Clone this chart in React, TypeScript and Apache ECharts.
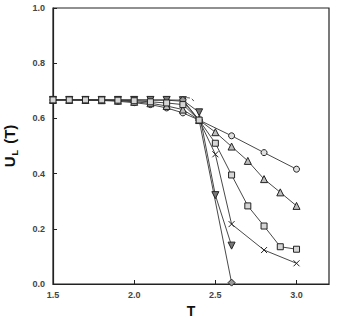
import React, { useEffect, useRef } from "react";
import * as echarts from "echarts";

// Temperatures and Binder cumulant values per system size
const circleT = [1.5, 1.6, 1.7, 1.8, 1.9, 2.0, 2.1, 2.2, 2.3, 2.4, 2.6, 2.8, 3.0];
const circleU = [0.667, 0.667, 0.666, 0.665, 0.662, 0.657, 0.65, 0.638, 0.62, 0.594, 0.537, 0.476, 0.416];

const triT = [1.5, 1.6, 1.7, 1.8, 1.9, 2.0, 2.1, 2.2, 2.3, 2.4, 2.5, 2.6, 2.7, 2.8, 2.9, 3.0];
const triU = [0.667, 0.667, 0.667, 0.666, 0.664, 0.66, 0.655, 0.645, 0.632, 0.594, 0.55, 0.498, 0.446, 0.38, 0.332, 0.283];

const sqT = [1.5, 1.6, 1.7, 1.8, 1.9, 2.0, 2.1, 2.2, 2.3, 2.4, 2.5, 2.6, 2.7, 2.8, 2.9, 3.0];
const sqU = [0.667, 0.667, 0.667, 0.667, 0.666, 0.664, 0.66, 0.656, 0.65, 0.594, 0.51, 0.395, 0.283, 0.21, 0.135, 0.126];

const crossT = [1.5, 1.6, 1.7, 1.8, 1.9, 2.0, 2.1, 2.2, 2.3, 2.4, 2.5, 2.6, 2.8, 3.0];
const crossU = [0.667, 0.667, 0.667, 0.667, 0.667, 0.667, 0.666, 0.666, 0.662, 0.594, 0.47, 0.217, 0.123, 0.075];

const invT = [1.5, 1.6, 1.7, 1.8, 1.9, 2.0, 2.1, 2.2, 2.3, 2.4, 2.5, 2.6];
const invU = [0.667, 0.667, 0.667, 0.667, 0.667, 0.667, 0.667, 0.667, 0.666, 0.622, 0.322, 0.139];

const diaT = [2.3, 2.4, 2.6];
const diaU = [0.667, 0.594, 0.005];

const dashT = [2.325, 2.352, 2.372];
const dashU = [0.675, 0.672, 0.656];

const xTicks = [1.5, 2.0, 2.5, 3.0];
const yTicks = [0.0, 0.2, 0.4, 0.6, 0.8, 1.0];

const zip = (a: number[], b: number[]) => a.map((v, i) => [v, b[i]]);

const CROSS = "path://M0,0L10,10M10,0L0,10";

export default function App() {
  const ref = useRef<HTMLDivElement>(null);
  useEffect(() => {
    if (!ref.current) return;
    const chart = echarts.init(ref.current, null, { renderer: "svg" });
    const lineStyle = { color: "#333", width: 0.9 };
    const mk = (data: number[][], symbol: string, fill: string, size = 6, rotate = 0) => ({
      type: "line",
      data,
      symbol,
      symbolSize: size,
      symbolRotate: rotate,
      showSymbol: true,
      lineStyle,
      itemStyle: { color: fill, borderColor: "#222", borderWidth: 1 },
      z: 3,
    });
    const labelStyle = {
      color: "#444",
      fontSize: 9,
      fontWeight: "bold" as const,
      fontFamily: "Liberation Sans, Arial, sans-serif",
    };
    chart.setOption({
      animation: false,
      grid: {
        left: 53,
        top: 8,
        right: 9,
        bottom: 33,
        containLabel: false,
        outerBoundsMode: "none",
        show: true,
        borderColor: "#222",
        borderWidth: 1.2,
        backgroundColor: "transparent",
      },
      xAxis: {
        type: "value",
        min: 1.5,
        max: 3.2,
        interval: 0.5,
        name: "T",
        nameLocation: "middle",
        nameGap: 21,
        nameTextStyle: {
          fontSize: 14,
          fontWeight: "bold",
          color: "#111",
          fontFamily: "Liberation Sans, Arial, sans-serif",
          verticalAlign: "middle",
        },
        axisLine: { show: true, lineStyle: { color: "#222", width: 1.2 } },
        axisTick: { show: true, inside: true, length: 4, lineStyle: { color: "#222" } },
        axisLabel: {
          ...labelStyle,
          margin: 6,
          showMaxLabel: false,
          formatter: (v: number) => (xTicks.some((t) => Math.abs(t - v) < 1e-6) ? v.toFixed(1) : ""),
        },
        splitLine: { show: false },
      },
      yAxis: {
        type: "value",
        min: 0,
        max: 1,
        interval: 0.2,
        name: "{a|U}{s|L}{a| (T)}",
        nameLocation: "middle",
        nameRotate: 90,
        nameGap: 34,
        nameTextStyle: {
          rich: {
            a: {
              fontSize: 15,
              fontWeight: "bold",
              color: "#111",
              fontFamily: "Liberation Sans, Arial, sans-serif",
            },
            s: {
              fontSize: 9,
              fontWeight: "bold",
              color: "#111",
              fontFamily: "Liberation Sans, Arial, sans-serif",
              padding: [10, 2, 0, 1],
            },
          },
        },
        axisLine: { show: true, lineStyle: { color: "#222", width: 1.2 } },
        axisTick: { show: true, inside: true, length: 4, lineStyle: { color: "#222" } },
        axisLabel: {
          ...labelStyle,
          margin: 8,
          formatter: (v: number) => (yTicks.some((t) => Math.abs(t - v) < 1e-6) ? v.toFixed(1) : ""),
        },
        splitLine: { show: false },
      },
      series: [
        mk(zip(circleT, circleU), "circle", "#e0e0e0", 6),
        mk(zip(triT, triU), "triangle", "#bdbdbd", 7),
        mk(zip(crossT, crossU), CROSS, "#ffffff", 6),
        mk(zip(invT, invU), "triangle", "#777", 7, 180),
        mk(zip(diaT, diaU), "diamond", "#999", 7),
        mk(zip(sqT, sqU), "rect", "#d6d6d6", 6),
        {
          type: "line",
          data: zip(dashT, dashU),
          smooth: true,
          showSymbol: false,
          symbol: "none",
          lineStyle: { color: "#333", width: 0.9, type: [3, 2] },
          z: 2,
        },
      ],
    });
    return () => chart.dispose();
  }, []);
  return (
    <div
      ref={ref}
      style={{ position: "fixed", left: 0, top: 0, width: 338, height: 317, background: "#fff" }}
    />
  );
}
